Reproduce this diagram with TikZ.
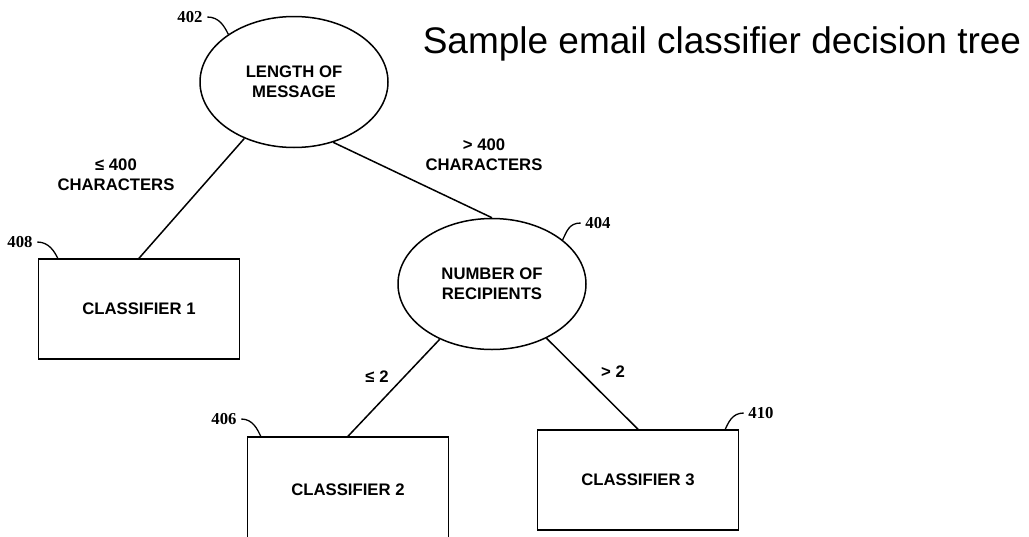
\documentclass[tikz,border=0pt]{standalone}
\usepackage{fontspec}
\setmainfont{Liberation Sans}
\newfontfamily\refnumfont{Liberation Serif}
\usetikzlibrary{positioning, calc, shapes.geometric}

\begin{document}
\begin{tikzpicture}[
  x=1pt, y=-1pt,
  line width=1.5pt,
  test/.style={draw, ellipse, minimum width=188pt, minimum height=131pt,
               inner sep=0pt, align=center,
               font=\fontsize{16.7}{20}\selectfont\bfseries},
  leaf/.style={draw, rectangle, minimum width=201pt, minimum height=100pt,
               inner sep=0pt, font=\fontsize{16.7}{20}\selectfont\bfseries},
  cond/.style={inner sep=0pt, align=center,
               font=\fontsize{16.7}{20}\selectfont\bfseries},
  refnum/.style={inner sep=0pt, font=\fontsize{16.7}{20}\selectfont\refnumfont\bfseries},
  lead/.style={line width=1.3pt}
]
\useasboundingbox (0,0) rectangle (1029,536);
\clip (0,0) rectangle (1029,536);

% title
\node[anchor=base west, inner sep=0pt, font=\fontsize{37}{40}\selectfont]
  (title) at (422,53) {Sample email classifier decision tree};

% decision nodes
\node[test] (len) at (294,82) {LENGTH OF\\MESSAGE};
\node[test] (rcp) at (492,284) {NUMBER OF\\RECIPIENTS};

% classifiers
\node[leaf] (c1) at (139,309) {CLASSIFIER 1};
\node[leaf, minimum height=106pt] (c2) at (348,490) {CLASSIFIER 2};
\node[leaf] (c3) at (638,480) {CLASSIFIER 3};

% branches
\draw (len) -- (c1.north);
\draw (len.-57) -- (rcp.north);
\draw (rcp) -- (c2.north);
\draw (rcp) -- (c3.north);

% branch conditions
\node[cond] (l1) at (116,175) {≤ 400\\CHARACTERS};
\node[cond] (l2) at (484,155) {> 400\\CHARACTERS};
\node[cond] (l3) at (377,377) {≤ 2};
\node[cond] (l4) at (613,372) {> 2};

% reference numerals
\node[refnum] (n402) at (190,17) {402};
\node[refnum] (n404) at (598,223) {404};
\node[refnum] (n408) at (20,242) {408};
\node[refnum] (n406) at (224,419) {406};
\node[refnum] (n410) at (761,413) {410};

\coordinate (p408) at ($(c1.north west)+(20,0)$);
\coordinate (p406) at ($(c2.north west)+(14,0)$);
\coordinate (p410) at ($(c3.north east)+(-14,0)$);

\draw[lead] ($(n402.east)+(4,0)$) .. controls +(12,0) and +(-4,-8) .. (len.144);
\draw[lead] ($(n404.west)+(-4,0)$) .. controls +(-12,0) and +(4,-8) .. (rcp.32);
\draw[lead] ($(n408.east)+(4,0)$) .. controls +(12,0) and +(-3,-6) .. (p408);
\draw[lead] ($(n406.east)+(4,0)$) .. controls +(12,0) and +(-3,-6) .. (p406);
\draw[lead] ($(n410.west)+(-4,0)$) .. controls +(-12,0) and +(3,-6) .. (p410);
\end{tikzpicture}
\end{document}
